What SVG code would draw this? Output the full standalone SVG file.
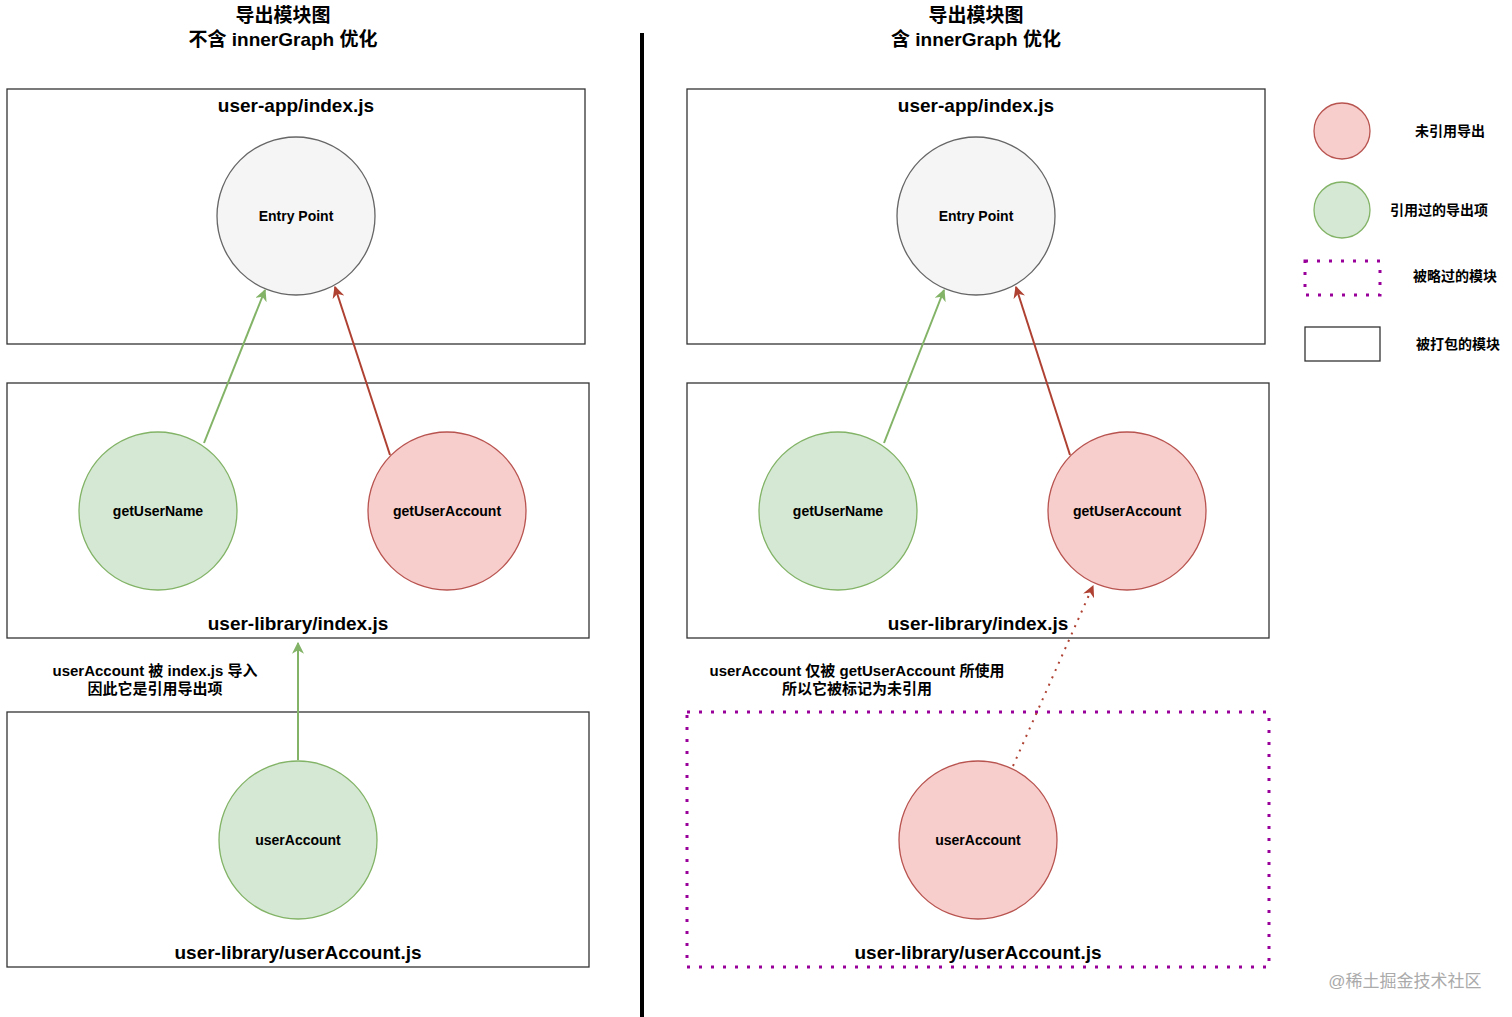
<svg xmlns="http://www.w3.org/2000/svg" width="1512" height="1017" viewBox="0 0 1512 1017">
<style>
text{font-family:"Liberation Sans","Noto Sans CJK SC",sans-serif;font-weight:bold;fill:#000;text-anchor:middle}
.box{fill:#fff;stroke:#333;stroke-width:1.3}
.skip{fill:none;stroke:#990099;stroke-width:3;stroke-dasharray:3 9}
.red{fill:#f8cecc;stroke:#b85450;stroke-width:1.3}
.grn{fill:#d5e8d4;stroke:#82b366;stroke-width:1.3}
.gry{fill:#f5f5f5;stroke:#666;stroke-width:1.3}
.t{font-size:19px}
.n{font-size:14px}
.c{font-size:15px}
.ag{stroke:#82b366;stroke-width:2;fill:none}
.ar{stroke:#ae4132;stroke-width:2;fill:none}
</style>
<defs>
<marker id="mg" viewBox="0 0 10 10" refX="9" refY="5" markerWidth="6" markerHeight="6" orient="auto"><path d="M0,0L10,5L0,10L3,5z" fill="#82b366"/></marker>
<marker id="mr" viewBox="0 0 10 10" refX="9" refY="5" markerWidth="6" markerHeight="6" orient="auto"><path d="M0,0L10,5L0,10L3,5z" fill="#ae4132"/></marker>
</defs>
<rect width="1512" height="1017" fill="#fff"/>
<g id="titles">
<text x="283" y="22" class="t">导出模块图</text>
<text x="283" y="46" class="t">不含 innerGraph 优化</text>
<text x="976" y="22" class="t">导出模块图</text>
<text x="976" y="46" class="t">含 innerGraph 优化</text>
</g>
<line x1="642" y1="33" x2="642" y2="1017" stroke="#000" stroke-width="4"/>
<g id="L-app"><rect class="box" x="7" y="89" width="578" height="255"/><text x="296" y="112" class="t">user-app/index.js</text></g>
<g id="L-lib"><rect class="box" x="7" y="383" width="582" height="255"/><text x="298" y="630" class="t">user-library/index.js</text></g>
<g id="L-acc"><rect class="box" x="7" y="712" width="582" height="255"/><text x="298" y="959" class="t">user-library/userAccount.js</text></g>
<g id="L-entry"><circle class="gry" cx="296" cy="216" r="79"/><text x="296" y="221" class="n" fill="#333">Entry Point</text></g>
<g id="L-gun"><circle class="grn" cx="158" cy="511" r="79"/><text x="158" y="516" class="n">getUserName</text></g>
<g id="L-gua"><circle class="red" cx="447" cy="511" r="79"/><text x="447" y="516" class="n">getUserAccount</text></g>
<g id="L-ua"><circle class="grn" cx="298" cy="840" r="79"/><text x="298" y="845" class="n">userAccount</text></g>
<g id="L-note"><text x="155" y="676" class="c">userAccount 被 index.js 导入</text><text x="155" y="694" class="c">因此它是引用导出项</text></g>
<g id="R-app"><rect class="box" x="687" y="89" width="578" height="255"/><text x="976" y="112" class="t">user-app/index.js</text></g>
<g id="R-lib"><rect class="box" x="687" y="383" width="582" height="255"/><text x="978" y="630" class="t">user-library/index.js</text></g>
<g id="R-acc"><rect class="skip" x="687" y="712" width="582" height="255"/><text x="978" y="959" class="t">user-library/userAccount.js</text></g>
<g id="R-entry"><circle class="gry" cx="976" cy="216" r="79"/><text x="976" y="221" class="n" fill="#333">Entry Point</text></g>
<g id="R-gun"><circle class="grn" cx="838" cy="511" r="79"/><text x="838" y="516" class="n">getUserName</text></g>
<g id="R-gua"><circle class="red" cx="1127" cy="511" r="79"/><text x="1127" y="516" class="n">getUserAccount</text></g>
<g id="R-ua"><circle class="red" cx="978" cy="840" r="79"/><text x="978" y="845" class="n">userAccount</text></g>
<g id="R-note"><text x="857" y="676" class="c">userAccount 仅被 getUserAccount 所使用</text><text x="857" y="694" class="c">所以它被标记为未引用</text></g>
<g id="connectors">
<line class="ag" x1="204" y1="443" x2="265" y2="290" marker-end="url(#mg)"/>
<line class="ar" x1="390" y1="455" x2="335" y2="287" marker-end="url(#mr)"/>
<line class="ag" x1="298" y1="760" x2="298" y2="643" marker-end="url(#mg)"/>
<line class="ag" x1="884" y1="443" x2="944" y2="290" marker-end="url(#mg)"/>
<line class="ar" x1="1070" y1="455" x2="1016" y2="287" marker-end="url(#mr)"/>
<line class="ar" x1="1013" y1="766" x2="1093" y2="586" stroke-dasharray="2 6" marker-end="url(#mr)"/>
</g>
<g id="legend">
<circle class="red" cx="1342" cy="131" r="28"/><text x="1450" y="136" class="n">未引用导出</text>
<circle class="grn" cx="1342" cy="210" r="28"/><text x="1439" y="215" class="n">引用过的导出项</text>
<rect class="skip" x="1305" y="261" width="75" height="34"/><text x="1455" y="281" class="n">被略过的模块</text>
<rect class="box" x="1305" y="327" width="75" height="34"/><text x="1458" y="349" class="n">被打包的模块</text>
</g>
<text x="1405" y="987" style="font-weight:normal;font-size:17px;fill:#aaa">@稀土掘金技术社区</text>
</svg>
